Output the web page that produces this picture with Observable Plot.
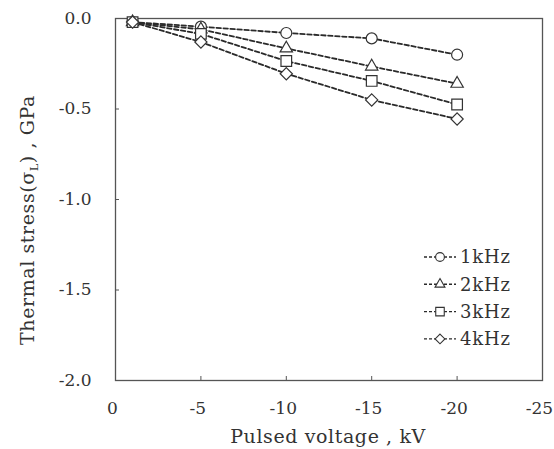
<!DOCTYPE html>
<html>
<head>
<meta charset="utf-8">
<script src="https://cdn.jsdelivr.net/npm/d3@7"></script>
<script src="https://cdn.jsdelivr.net/npm/@observablehq/plot@0.6"></script>
<style>
  html, body { margin: 0; padding: 0; background: #fff; }
  #chart svg { display: block; }
</style>
</head>
<body>
<div id="chart"></div>
<script>
// Data
const voltage = [-1, -5, -10, -15, -20];
const series = ["1kHz", "2kHz", "3kHz", "4kHz"];
const stress1k = [-0.02, -0.045, -0.08, -0.11, -0.20];
const stress2k = [-0.02, -0.06, -0.165, -0.265, -0.36];
const stress3k = [-0.02, -0.085, -0.235, -0.345, -0.475];
const stress4k = [-0.02, -0.13, -0.305, -0.45, -0.555];
const symbols = ["circle", "triangle", "square", "diamond2"];
const symbolR = [5.5, 4.6, 6, 5.5];
const xTickValues = [0, -5, -10, -15, -20, -25];
const yTickValues = [0, -0.5, -1.0, -1.5, -2.0];
const xTitle = "Pulsed voltage , kV";

const allStress = [stress1k, stress2k, stress3k, stress4k];
const rows = series.map((s, i) => voltage.map((v, j) => ({series: s, x: v, y: allStress[i][j]})));

const ink = "#2a2a2a";
const marks = [];
rows.forEach((data, i) => {
  marks.push(Plot.line(data, {x: "x", y: "y", stroke: ink, strokeWidth: 1.8, strokeDasharray: "4.5,2.5"}));
});
rows.forEach((data, i) => {
  marks.push(Plot.dot(data, {x: "x", y: "y", symbol: () => symbols[i], r: symbolR[i], stroke: "#333", strokeWidth: 1.2, fill: "white"}));
});

const chart = Plot.plot({
  width: 554,
  height: 449,
  marginLeft: 115,
  marginRight: 12,
  marginTop: 18,
  marginBottom: 69,
  style: {fontFamily: "DejaVu Serif", fontSize: "17px", color: "#333", background: "white"},
  symbol: {type: "identity"},
  x: {domain: [0, -25]},
  y: {domain: [-2, 0]},
  marks: [
    Plot.frame({stroke: "#555", strokeWidth: 1.3}),
    Plot.axisX({ticks: xTickValues.slice(1, -1), tickSize: -4, text: null, label: null, stroke: "#555"}),
    Plot.axisY({ticks: yTickValues.slice(1, -1), tickSize: -4, text: null, label: null, stroke: "#555"}),
    Plot.axisX({ticks: xTickValues, tickSize: 0, tickPadding: 21, tickFormat: d => String(d), fontSize: 17, dx: -3, label: null}),
    Plot.axisY({ticks: yTickValues, tickSize: 0, tickPadding: 24, tickFormat: d => d.toFixed(1), fontSize: 17, label: null}),
    ...marks
  ]
});

document.getElementById("chart").appendChild(chart);

const svg = d3.select(chart);

// X axis title
svg.append("text")
  .attr("x", 328).attr("y", 443)
  .attr("text-anchor", "middle")
  .attr("font-family", "DejaVu Serif")
  .attr("font-size", 19)
  .attr("letter-spacing", 0.6)
  .attr("fill", "#333")
  .text(xTitle);

// Y axis title with subscript
const yt = svg.append("text")
  .attr("transform", "translate(34,220) rotate(-90)")
  .attr("text-anchor", "middle")
  .attr("font-family", "DejaVu Serif")
  .attr("font-size", 19)
  .attr("letter-spacing", 0.6)
  .attr("fill", "#333");
yt.append("tspan").text("Thermal stress(σ");
yt.append("tspan").attr("font-size", 11).attr("dy", 4).text("L");
yt.append("tspan").attr("dy", -4).text(") , GPa");

// Legend inside the frame
const legend = svg.append("g").attr("font-family", "DejaVu Serif").attr("font-size", 18).attr("fill", "#333");
series.forEach((s, i) => {
  const yy = 257 + i * 27.3;
  legend.append("line").attr("x1", 424).attr("x2", 456).attr("y1", yy).attr("y2", yy)
    .attr("stroke", ink).attr("stroke-width", 1.4).attr("stroke-dasharray", "3,2");
  const symType = [d3.symbolCircle, d3.symbolTriangle, d3.symbolSquare, d3.symbolDiamond2][i];
  const sz = Math.PI * Math.pow(symbolR[i] * 0.8, 2);
  legend.append("path").attr("d", d3.symbol(symType, sz)()).attr("transform", `translate(440,${yy})`)
    .attr("fill", "white").attr("stroke", "#333").attr("stroke-width", 1.1);
  legend.append("text").attr("x", 460).attr("y", yy).attr("dy", "0.35em").attr("text-anchor", "start")
    .attr("letter-spacing", 0.8).text(s);
});
</script>
</body>
</html>
